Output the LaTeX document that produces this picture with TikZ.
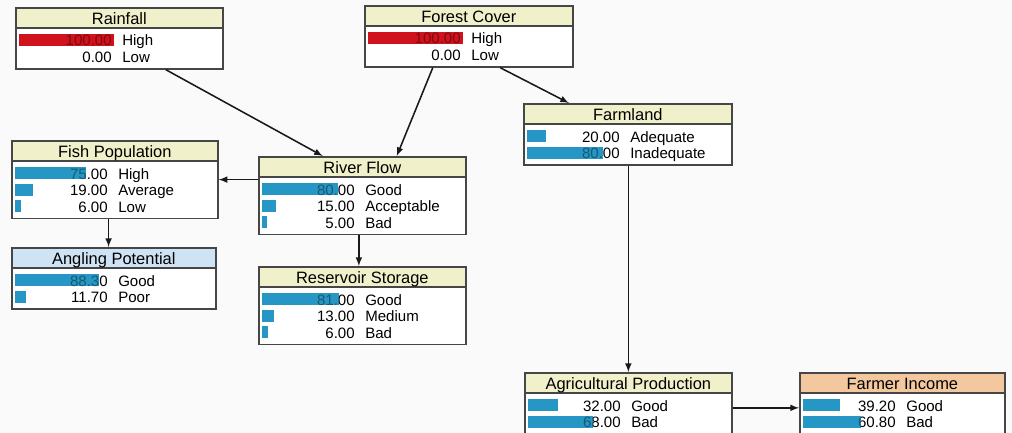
\documentclass[tikz,border=0pt]{standalone}
\usepackage{fontspec}
\setmainfont{Liberation Sans}
\usepackage{tikz}
\usetikzlibrary{arrows,calc,positioning}

\definecolor{boxline}{RGB}{70,70,70}
\definecolor{bgcol}{RGB}{250,250,250}
\definecolor{headyellow}{RGB}{240,240,202}
\definecolor{headblue}{RGB}{206,228,245}
\definecolor{headorange}{RGB}{243,200,158}
\definecolor{barblue}{RGB}{38,150,196}
\definecolor{barred}{RGB}{208,18,28}

\newcommand{\pu}{0.025cm}

% rows of a box: bar, value and state name
\newcommand{\staterows}[3]{%
  \foreach \val/\lab [count=\i from 0] in {#3} {
    \ifdim\val pt>0pt
      \fill[#2] ($(#1.north west)+(4,{27+16.5*\i})$) rectangle ++({0.95*\val},12);
    \fi
    \node[valtext] (#1-v\i) at ($(#1.north west)+(97,{39+16.5*\i})$) {\val};
    \ifdim\val pt>0pt
      \fill[#2, opacity=.6] ($(#1.north west)+(4,{27+16.5*\i})$) rectangle ++({0.95*\val},12);
    \fi
    \node[labtext] (#1-l\i) at ($(#1.north west)+(107,{39+16.5*\i})$) {\lab};
  }}

\begin{document}
\begin{tikzpicture}[x=0.025cm,y=-0.025cm]
      \tikzstyle{box}=[draw=boxline, fill=white, line width=1.2pt, inner sep=0pt, anchor=north west]
      \tikzstyle{head}=[draw=boxline, fill=headyellow, line width=1.2pt, inner sep=0pt, anchor=north,
        minimum height=20*\pu, text height=10.5pt, text depth=0.5pt, font=\fontsize{11.7}{13}\selectfont]
      \tikzstyle{valtext}=[anchor=base east, inner sep=0pt, font=\fontsize{10.7}{12}\selectfont]
      \tikzstyle{labtext}=[anchor=base west, inner sep=0pt, font=\fontsize{10.7}{12}\selectfont]
      \tikzstyle{link}=[->,>=latex, line width=1.1pt, black!90]
      \fill[bgcol] (0,0) rectangle (1012,433);
      \useasboundingbox (0,0) rectangle (1012,433);

      % top row
      \node[box, minimum width=207*\pu, minimum height=61*\pu] (rain) at (15,7) {};
      \node[head, minimum width=207*\pu] (rainT) at (rain.north) {Rainfall};
      \staterows{rain}{barred}{100.00/High, 0.00/Low}

      \node[box, minimum width=208*\pu, minimum height=61*\pu] (forest) at (364,5) {};
      \node[head, minimum width=208*\pu] (forestT) at (forest.north) {Forest Cover};
      \staterows{forest}{barred}{100.00/High, 0.00/Low}

      % middle
      \node[box, minimum width=206*\pu, minimum height=77.5*\pu] (fish) at (11,140) {};
      \node[head, minimum width=206*\pu] (fishT) at (fish.north) {Fish Population};
      \staterows{fish}{barblue}{75.00/High, 19.00/Average, 6.00/Low}

      \node[box, minimum width=204*\pu, minimum height=61*\pu] (angling) at (11,247) {};
      \node[head, fill=headblue, minimum width=204*\pu] (anglingT) at (angling.north) {Angling Potential};
      \staterows{angling}{barblue}{88.30/Good, 11.70/Poor}

      \node[box, minimum width=207*\pu, minimum height=77.5*\pu] (river) at (258,156) {};
      \node[head, minimum width=207*\pu] (riverT) at (river.north) {River Flow};
      \staterows{river}{barblue}{80.00/Good, 15.00/Acceptable, 5.00/Bad}

      \node[box, minimum width=207*\pu, minimum height=77.5*\pu] (reservoir) at (258,266) {};
      \node[head, minimum width=207*\pu] (reservoirT) at (reservoir.north) {Reservoir Storage};
      \staterows{reservoir}{barblue}{81.00/Good, 13.00/Medium, 6.00/Bad}

      \node[box, minimum width=208*\pu, minimum height=61*\pu] (farm) at (523,103) {};
      \node[head, minimum width=208*\pu] (farmT) at (farm.north) {Farmland};
      \staterows{farm}{barblue}{20.00/Adequate, 80.00/Inadequate}

      % bottom
      \node[box, minimum width=207*\pu, minimum height=61*\pu] (agri) at (524,372) {};
      \node[head, minimum width=207*\pu] (agriT) at (agri.north) {Agricultural Production};
      \staterows{agri}{barblue}{32.00/Good, 68.00/Bad}

      \node[box, minimum width=205*\pu, minimum height=61*\pu] (farmer) at (799,372) {};
      \node[head, fill=headorange, minimum width=205*\pu] (farmerT) at (farmer.north) {Farmer Income};
      \staterows{farmer}{barblue}{39.20/Good, 60.80/Bad}

      % links
      \draw[link] (rain.-34) -- (river.135.5);
      \draw[link] (forest.-139) -- (river.49);
      \draw[link] (forest.-45.5) -- (farm.152);
      \draw[link] (river.west |- fish.east) -- (fish.east);
      \draw[link] (fish.-99) -- (fish.-99 |- angling.north);
      \draw[link] (river.-95) -- (river.-95 |- reservoir.north);
      \draw[link] (farm.south -| agri.north) -- (agri.north);
      \draw[link] ($(agri.east)+(0,4.5)$) -- ($(farmer.west)+(0,4.5)$);
    \end{tikzpicture}
\end{document}
